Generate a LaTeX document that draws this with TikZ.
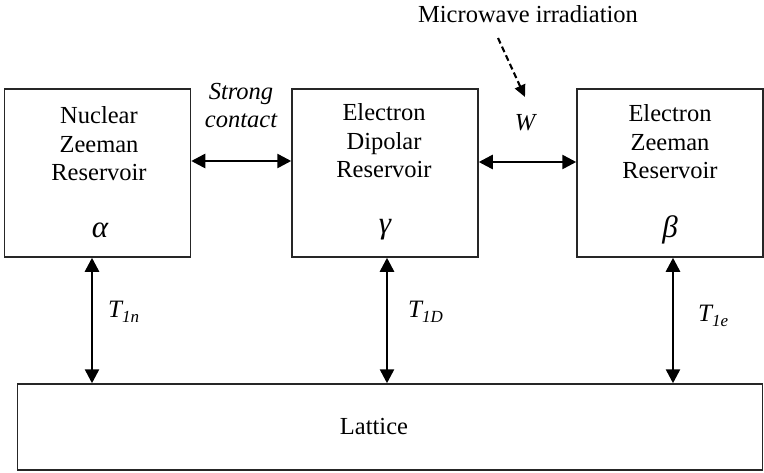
\documentclass[tikz,border=0pt]{standalone}
\usepackage{fontspec}
\setmainfont{Liberation Serif}
\usetikzlibrary{arrows.meta}
\begin{document}
\begin{tikzpicture}[x=1pt,y=-1pt,
  box/.style={draw=black!85,line width=1.5pt,minimum width=186pt,minimum height=168pt,inner sep=0pt},
  txt/.style={font=\fontsize{24.5}{28.5}\selectfont,align=center,inner sep=0pt},
  greek/.style={font=\fontsize{31}{31}\selectfont\itshape,inner sep=0pt},
  dbl/.style={line width=2.6pt,{Triangle[length=14pt,width=14pt]}-{Triangle[length=14pt,width=14pt]}},
  wave/.style={line width=2.1pt,dash pattern=on 6pt off 3.5pt,-{Triangle[length=12pt,width=11pt]}}]
\useasboundingbox (0,0) rectangle (764,472);
\node[box] (lz) at (97.5,173) {};
\node[box] (dp) at (385,173) {};
\node[box] (ez) at (670,173) {};
\node[draw=black!85,line width=1.5pt,minimum width=745pt,minimum height=86pt,inner sep=0pt] (lat) at (390,427) {};
\node[txt] (lztext) at (99,144) {Nuclear\\Zeeman\\Reservoir};
\node[txt] (dptext) at (384,141) {Electron\\Dipolar\\Reservoir};
\node[txt] (eztext) at (670,142) {Electron\\Zeeman\\Reservoir};
\node[greek] (alpha) at (100,230) {α};
\node[greek] (gamma) at (385,230) {γ};
\node[greek] (beta) at (670,230) {β};
\node[txt] (lattext) at (374,427) {Lattice};
\node[txt,font=\fontsize{24.5}{28}\selectfont\itshape] (strong) at (241,106) {Strong\\contact};
\node[txt,font=\fontsize{24.5}{28}\selectfont\itshape] (w) at (525,123) {W};
\node[txt] (mw) at (528,14) {Microwave irradiation};
\node[anchor=west,inner sep=0pt,font=\fontsize{25}{28}\selectfont\itshape] (t1n) at (108,312) {T\raisebox{-5pt}{\fontsize{17}{17}\selectfont 1n}};
\node[anchor=west,inner sep=0pt,font=\fontsize{25}{28}\selectfont\itshape] (t1d) at (408,312) {T\raisebox{-5pt}{\fontsize{17}{17}\selectfont 1D}};
\node[anchor=west,inner sep=0pt,font=\fontsize{25}{28}\selectfont\itshape] (t1e) at (698,316) {T\raisebox{-5pt}{\fontsize{17}{17}\selectfont 1e}};
\draw[dbl] ([yshift=12pt]lz.east) -- ([yshift=12pt]lz.east -| dp.west);
\draw[dbl] ([yshift=11pt]dp.east) -- ([yshift=11pt]dp.east -| ez.west);
\draw[dbl] ([xshift=-5.5pt]lz.south) -- ([xshift=-5.5pt]lz.south |- lat.north);
\draw[dbl] ([xshift=2pt]dp.south) -- ([xshift=2pt]dp.south |- lat.north);
\draw[dbl] ([xshift=3pt]ez.south) -- ([xshift=3pt]ez.south |- lat.north);
\coordinate (mwstart) at (498,38);
\coordinate (mwend) at (525,97);
\draw[wave] (mwstart) -- (mwend);
\end{tikzpicture}
\end{document}
